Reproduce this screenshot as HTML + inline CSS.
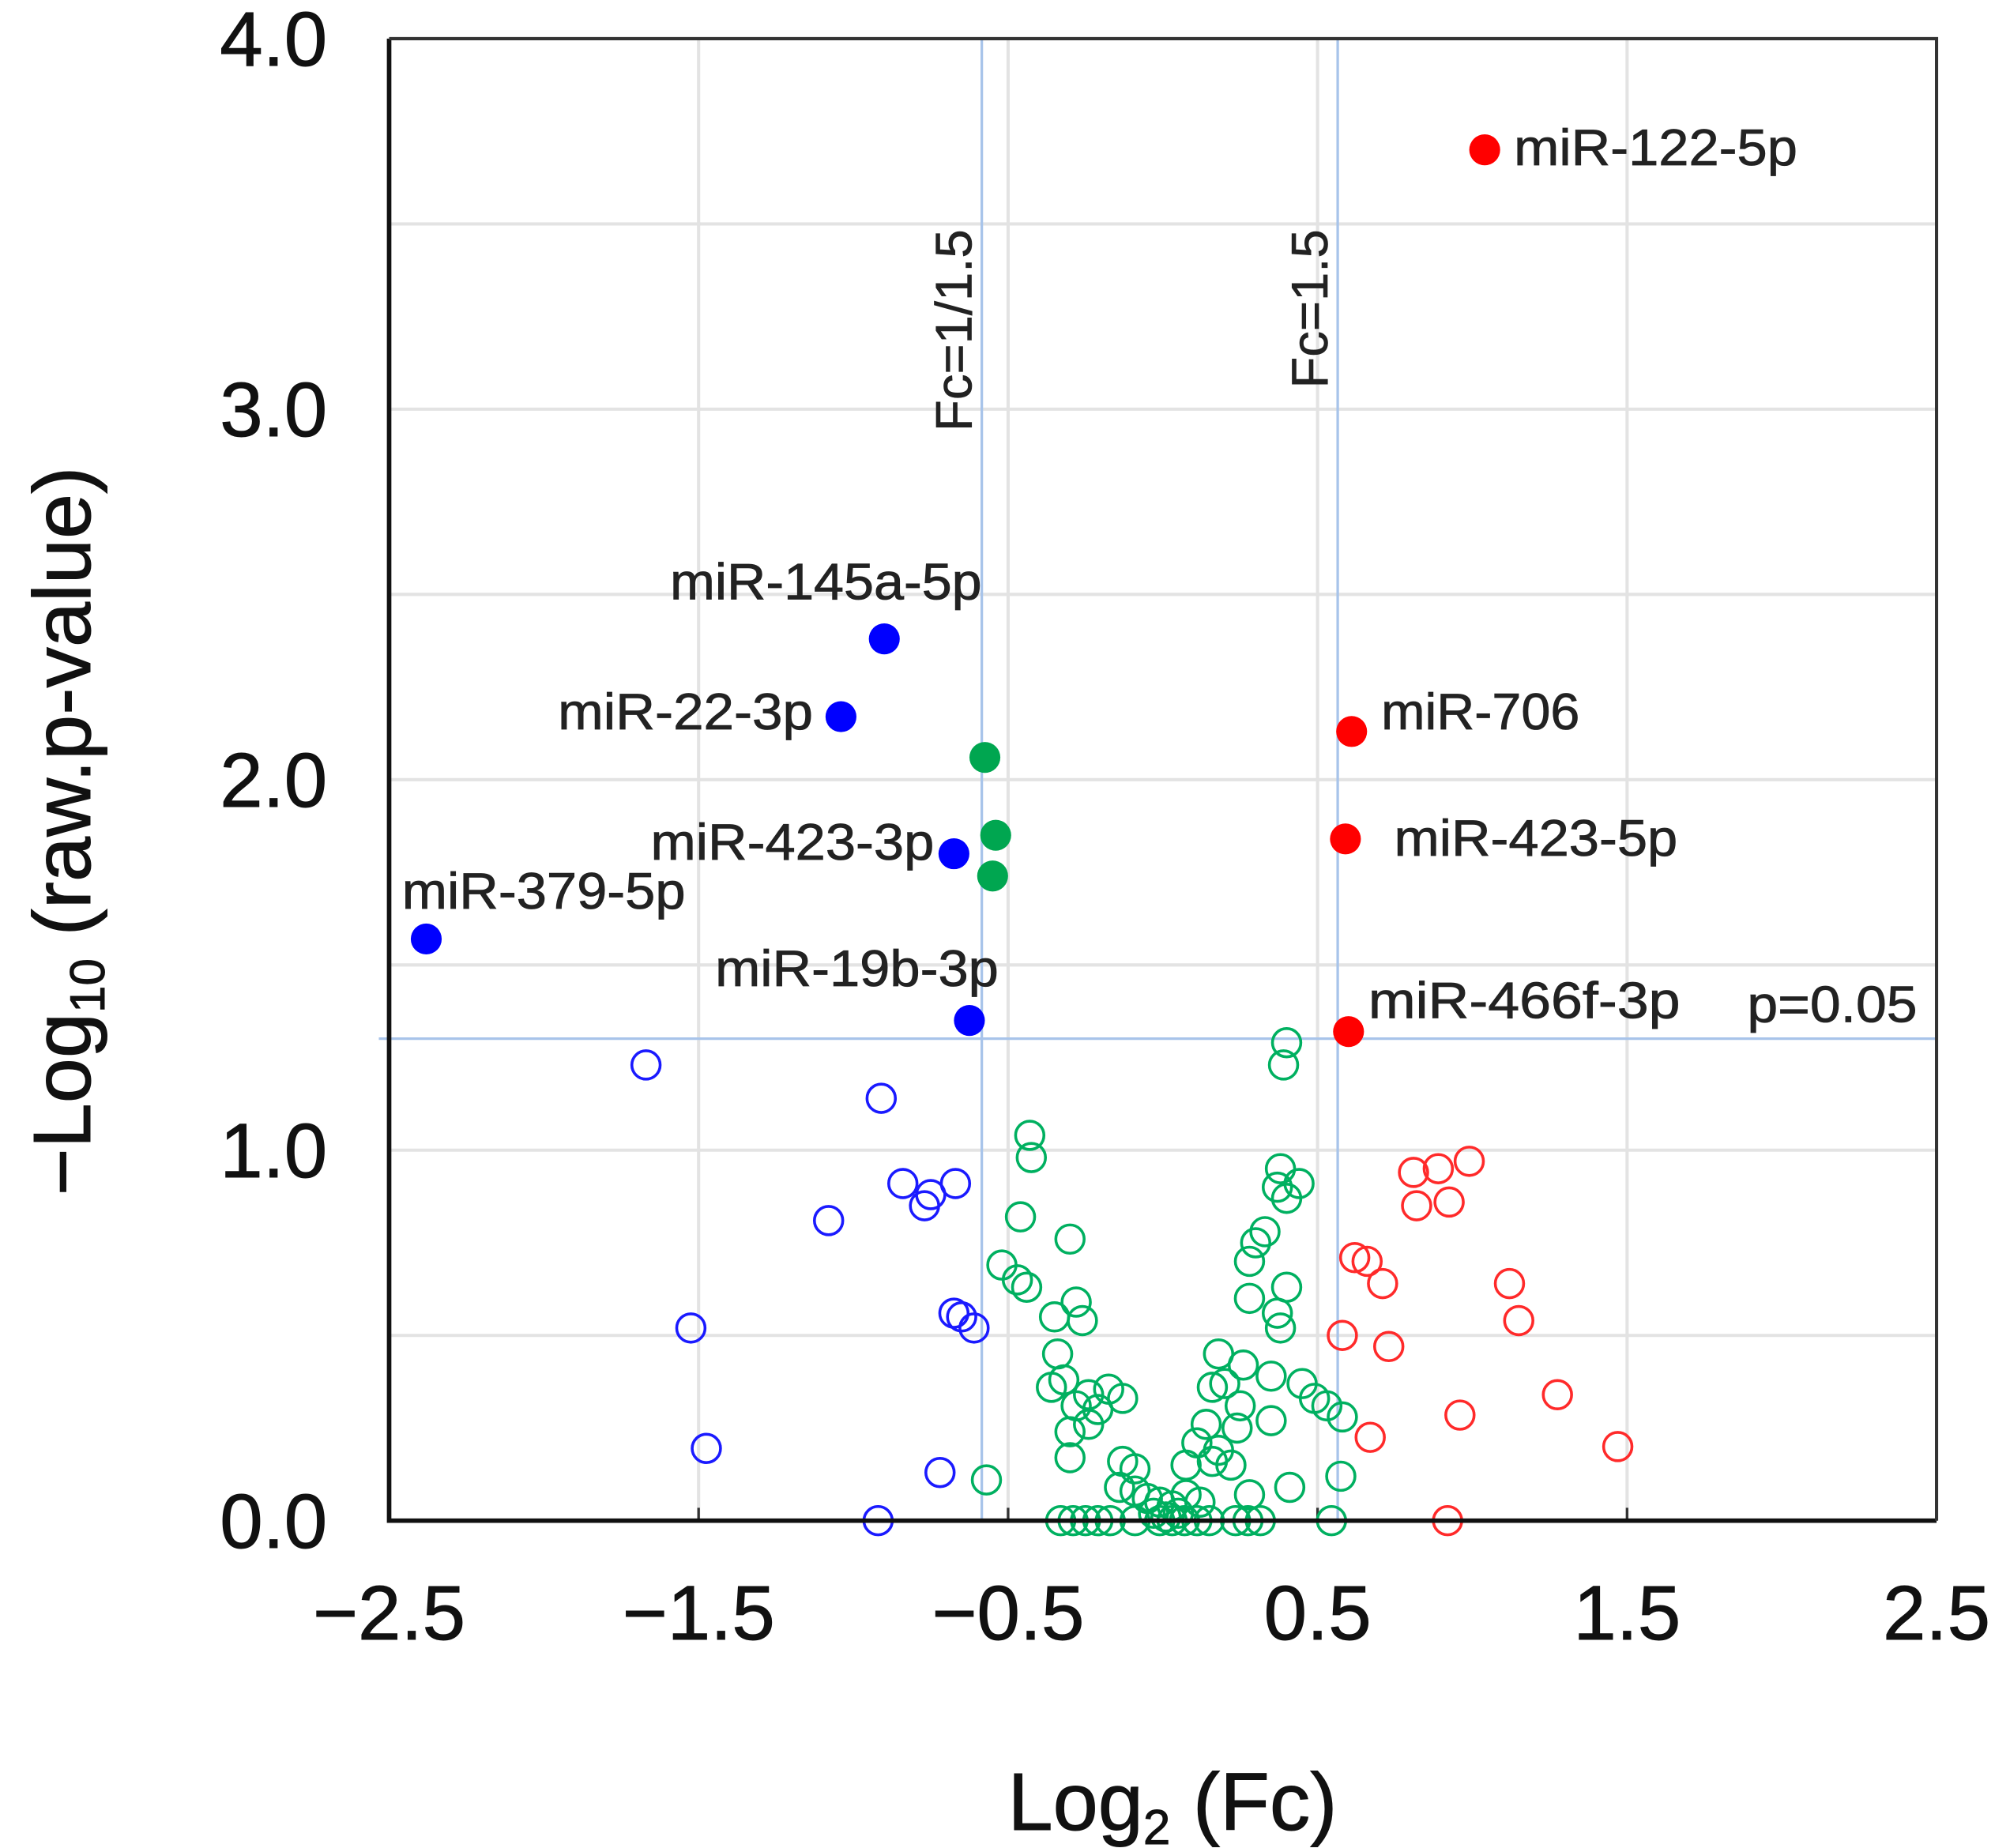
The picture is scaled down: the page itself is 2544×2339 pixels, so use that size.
<!DOCTYPE html>
<html><head><meta charset="utf-8"><style>
html,body{margin:0;padding:0;background:#fff;}
svg{display:block;font-family:"Liberation Sans",Arial,sans-serif;}
</style></head><body>
<svg id="chart" width="2544" height="2339" viewBox="0 0 1560 1434" preserveAspectRatio="none" xmlns="http://www.w3.org/2000/svg">
<g id="grid"></g>
<g id="refs"></g>
<g id="pts"></g>
<g id="axes"></g>
<g id="labels"></g>
<text x="910" y="1420" text-anchor="middle" font-size="63" fill="#111" stroke="#111" stroke-width="0.6">Log<tspan font-size="38" dy="11">2</tspan><tspan dy="-11"> (Fc)</tspan></text>
<text transform="translate(70,645) rotate(-90)" text-anchor="middle" font-size="63" fill="#111" stroke="#111" stroke-width="0.6">−Log<tspan font-size="38" dy="11">10</tspan><tspan dy="-11"> (raw.p-value)</tspan></text>
</svg>
<script>
const xTicks=[-2.5,-1.5,-0.5,0.5,1.5,2.5];
const yTicks=[0,1,2,3,4];
const yTickLabels=["0.0","1.0","2.0","3.0","4.0"];
const filledX=[1.04,-0.90,-1.04,-0.675,-2.38,-0.625,-0.575,-0.54,-0.55,0.61,0.59,0.60];
const filledY=[3.70,2.38,2.17,1.80,1.57,1.35,2.06,1.85,1.74,2.13,1.84,1.32];
const filledC=["red","blue","blue","blue","blue","blue","green","green","green","red","red","red"];
const pointNames=["miR-122-5p","miR-145a-5p","miR-22-3p","miR-423-3p","miR-379-5p","miR-19b-3p","","","","miR-706","miR-423-5p","miR-466f-3p"];
const blueX=[-1.67,-0.91,-0.84,-0.67,-0.75,-0.77,-1.08,-1.525,-0.65,-0.61,-0.675,-1.475,-0.72,-0.92];
const blueY=[1.23,1.14,0.91,0.91,0.88,0.85,0.81,0.52,0.55,0.52,0.56,0.195,0.13,0.0];
const redX=[0.81,0.89,0.99,0.82,0.925,0.62,0.66,0.71,1.12,1.15,0.58,0.73,1.275,0.96,0.67,1.47,0.92];
const redY=[0.94,0.95,0.97,0.85,0.86,0.71,0.70,0.64,0.64,0.54,0.50,0.47,0.34,0.285,0.225,0.2,0.0];
const greenX=[0.40,0.39,-0.43,-0.425,0.38,0.44,0.37,0.40,-0.46,0.33,0.30,0.28,-0.30,-0.52,-0.47,-0.44,-0.28,0.28,0.40,-0.35,-0.26,0.37,0.38,-0.34,0.18,0.26,0.45,0.35,0.16,0.20,-0.36,-0.32,-0.24,-0.175,-0.13,-0.28,-0.21,0.49,0.53,0.58,0.25,0.35,-0.30,-0.24,0.14,0.24,0.11,0.18,-0.30,-0.13,-0.09,0.075,0.16,0.22,-0.57,0.575,-0.14,-0.09,-0.05,-0.01,0.03,0.075,0.12,0.28,0.41,-0.03,0.01,0.05,
-0.33,-0.29,-0.25,-0.21,-0.17,-0.09,-0.01,0.03,0.07,0.11,0.15,0.235,0.275,0.315,0.545];
const greenY=[1.29,1.23,1.04,0.98,0.95,0.91,0.90,0.87,0.82,0.78,0.75,0.70,0.76,0.69,0.65,0.63,0.59,0.60,0.63,0.55,0.54,0.56,0.52,0.45,0.45,0.42,0.37,0.39,0.36,0.37,0.36,0.38,0.34,0.355,0.33,0.31,0.30,0.33,0.31,0.28,0.31,0.27,0.24,0.26,0.26,0.25,0.21,0.19,0.17,0.16,0.14,0.15,0.16,0.15,0.11,0.12,0.09,0.08,0.06,0.05,0.04,0.07,0.05,0.07,0.09,0.02,0.01,0.02,
0,0,0,0,0,0,0,0,0,0,0,0,0,0,0];
const fcLines=[-0.585,0.565];
const pThreshold=1.301;
const colors={red:"#ff0000",blue:"#0000ff",green:"#00a650"};
const openColors={red:"#ff2a2a",blue:"#1a1aff",green:"#00b060"};

const L=302,R=1503,T=30,B=1180;
const sx=v=>L+(v+2.5)*(R-L)/5;
const sy=v=>B-v*(B-T)/4;
const NS="http://www.w3.org/2000/svg";
function mk(parent,tag,attrs){const e=document.createElementNS(NS,tag);for(const k in attrs)e.setAttribute(k,attrs[k]);parent.appendChild(e);return e;}
const grid=document.getElementById('grid'),refs=document.getElementById('refs'),pts=document.getElementById('pts'),axes=document.getElementById('axes'),labels=document.getElementById('labels');
for(let v=0.5;v<4;v+=0.5){const l=mk(grid,'line',{x1:L,x2:R,y1:sy(v),y2:sy(v),stroke:'#e3e3e3','stroke-width':2.5});

}
xTicks.slice(1,-1).forEach(v=>{const l=mk(grid,'line',{x1:sx(v),x2:sx(v),y1:T,y2:B,stroke:'#e3e3e3','stroke-width':2.5});


const t=mk(grid,'line',{x1:sx(v),x2:sx(v),y1:B-10,y2:B,stroke:'#333','stroke-width':2});

});
fcLines.forEach(v=>{const l=mk(refs,'line',{x1:sx(v),x2:sx(v),y1:T,y2:B,stroke:'#a8c4ea','stroke-width':2});

});
const pl=mk(refs,'line',{x1:L-8,x2:R,y1:sy(pThreshold),y2:sy(pThreshold),stroke:'#a8c4ea','stroke-width':2});


function openSet(xs,ys,c,name){xs.forEach((x,i)=>{const e=mk(pts,'circle',{cx:sx(x),cy:sy(ys[i]),r:11,fill:'none',stroke:openColors[c],'stroke-width':2.2});

});}
openSet(greenX,greenY,'green','green-open-point');
openSet(blueX,blueY,'blue','blue-open-point');
openSet(redX,redY,'red','red-open-point');
filledX.forEach((x,i)=>{const e=mk(pts,'circle',{cx:sx(x),cy:sy(filledY[i]),r:12,fill:colors[filledC[i]]});

});
const ax=mk(axes,'path',{d:`M${L},${T}V${B}H${R}`,fill:'none',stroke:'#111','stroke-width':3.5});


const fr=mk(axes,'path',{d:`M${L},${T}H${R}V${B}`,fill:'none',stroke:'#333','stroke-width':2.5});


xTicks.forEach(v=>{const t=mk(axes,'text',{x:sx(v),y:1272,'text-anchor':'middle','font-size':60,fill:'#111',stroke:'#111','stroke-width':0.6});t.textContent=(v<0?'−':'')+Math.abs(v).toFixed(1);

});
yTicks.forEach((v,i)=>{const t=mk(axes,'text',{x:254,y:sy(v)+21,'text-anchor':'end','font-size':60,fill:'#111',stroke:'#111','stroke-width':0.6});t.textContent=yTickLabels[i];

});
const labelPos=[["miR-122-5p",1175,115],["miR-145a-5p",520,452],["miR-22-3p",433,553],["miR-423-3p",505,654],["miR-379-5p",312,692],["miR-19b-3p",555,752],["miR-706",1072,553],["miR-423-5p",1082,651],["miR-466f-3p",1062,777],["p=0.05",1356,780]];
labelPos.forEach(p=>{const t=mk(labels,'text',{x:p[1],y:p[2]+13,'font-size':40,fill:'#222',stroke:'#222','stroke-width':0.5,textLength:(p[0].length*22),lengthAdjust:'spacingAndGlyphs'});t.textContent=p[0];

});
[["Fc=1/1.5",sx(fcLines[0])-8],["Fc=1.5",sx(fcLines[1])-8]].forEach(p=>{const t=mk(labels,'text',{transform:`translate(${p[1]},178) rotate(-90)`,'text-anchor':'end','font-size':40,fill:'#222',stroke:'#222','stroke-width':0.4});t.textContent=p[0];

});
</script>
</body></html>
